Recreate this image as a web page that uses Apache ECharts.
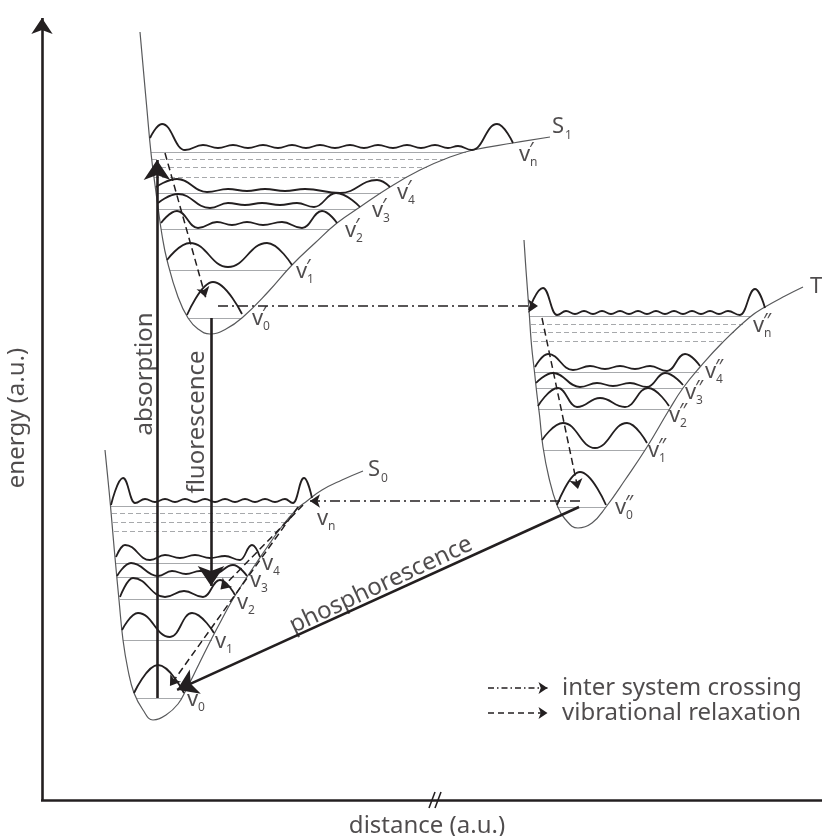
<!DOCTYPE html>
<html>
<head>
<meta charset="utf-8">
<script src="https://cdn.jsdelivr.net/npm/echarts@6.0.0/dist/echarts.min.js"></script>
<style>
  html, body { margin: 0; padding: 0; background: #fff; }
  #main { width: 822px; height: 836px; }
</style>
</head>
<body>
<div id="main"></div>
<script>
// x: distance (a.u.), y: energy (a.u.) measured downwards like the drawing
const curveS1 = [[140,32],[147,110],[151,153],[155,185],[158,207],[162,235],[167,260],[178,297],[188,318],[198,329],[210,334],
  [226,329],[243,317],[268,292],[292,265],[315,243],[337,223],[360,207],[390,187],[420,170],[450,157],[473,150],[513,143],[550,137]];
const curveS0 = [[105,450],[108,480],[110.5,506],[113,535],[115.5,563],[119,600],[123,640],[128,670],[134,693],[143,710],[153,720],
  [166,715],[178,704],[186,690],[199,664],[212,638],[222,619],[233,599],[247,577],[257,562],[270,543],[283,525],[297,509],[307,501],[322,490],[342,480],[363,471]];
const curveT = [[524,240],[526,270],[529,310],[531.5,345],[534.5,372],[537,395],[539.5,415],[543,447],[549,478],[557,505],[565,519],[578,528],
  [592,523],[606,507],[625,480],[647,447],[669,410],[683,388],[700,367],[722,343],[750,317],[765,307],[785,296],[803,287]];

// vibrational levels [left, right, energy]
const levelsS1 = [[151,466,152],[156,381,193],[158,357,209],[161,330,229],[170,287,270],[188,242,318]];
const levelsS0 = [[111,301,506],[116,257,563],[117,247,577],[120,233,599],[123,212,640],[136,182,698]];
const levelsT = [[530,750,316],[535,699,372],[536,683,388],[538,669,409],[543,645,450],[557,606,507]];
const hiddenS1 = [[152,445,159],[153,427,167],[154,407,177]];
const hiddenS0 = [[112,293,513],[113,286,522],[114,279,531]];
const hiddenT = [[531,743,324],[532,734,332],[533,724,341]];

// wavefunctions over the levels
const wavesS1 = [
  [[187,315],[213,282],[242,314]],
  [[167,260],[190,243],[228,267],[267,243],[292,265]],
  [[161,223],[177,211],[198,228],[217,222],[232,225],[247,222],[263,225],[282,222],[302,228],[322,211],[337,223]],
  [[158,203],[178,194],[210,208],[228,203],[245,205],[262,203],[280,205],[297,203],[314,207],[336,193],[360,207]],
  [[156,187],[177,179],[207,192],[228,189],[247,191],[265,189],[285,191],[305,189],[340,193],[377,180],[390,187]],
  [[150,138],[162,124],[185,150],[203,145],[218,148],[233,145],[248,148],[263,145],[278,148],[292,145],[306,148],[320,145],[335,148],
   [350,145],[364,148],[378,145],[393,148],[407,145],[421,148],[435,145],[448,148],[458,146],[472,150],[497,124],[513,143]]
];
const wavesS0 = [
  [[134,693],[158,665],[184,693]],
  [[122,630],[138,613],[170,637],[192,613],[214,633]],
  [[120,597],[133,578],[165,597],[184,591],[203,597],[220,580],[235,595]],
  [[117,576],[131,563],[158,576],[172,571],[186,574],[200,571],[214,574],[233,565],[247,576]],
  [[116,557],[125,545],[150,560],[165,555],[180,558],[195,555],[210,558],[225,556],[240,560],[252,545],[260,557]],
  [[111,505],[123,478],[135,503],[145,499],[155,502],[165,499],[175,502],[185,499],[195,502],[205,499],[215,502],[225,499],
   [235,502],[245,499],[255,502],[265,499],[275,502],[285,499],[293,503],[304,478],[312,498]]
];
const wavesT = [
  [[557,505],[580,472],[606,505]],
  [[542,440],[563,423],[595,448],[627,423],[647,443]],
  [[538,406],[558,388],[577,407],[600,398],[625,407],[648,388],[669,406]],
  [[536,383],[553,373],[580,387],[597,383],[613,386],[630,383],[647,387],[665,373],[683,385]],
  [[535,367],[548,354],[573,370],[590,366],[605,369],[620,366],[635,369],[650,366],[667,371],[685,354],[700,366]],
  [[529,310],[543,288],[557,315],[566,311],[575,314],[584,311],[593,314],[602,311],[611,314],[620,311],[629,314],[638,311],
   [647,314],[656,311],[665,314],[674,311],[683,314],[692,311],[701,314],[710,311],[719,314],[728,311],[740,315],[755,289],[765,308]]
];

// transitions [from, to]
const radiative = [[[157,698],[157,150]], [[211,318],[211,596]]];
const phosphorescence = [[[579,507],[168,694]]];
const relaxation = [[[165,153],[207,302]], [[542,318],[579,494]], [[298,507],[167,690]], [[303,505],[217,593]]];
const crossing = [[[218,306],[543,306]], [[580,501],[305,501]]];

// level tags [x, y, subscript]
const tagsS1 = [[252,319,'0'],[296,272,'1'],[345,231,'2'],[372,211,'3'],[397,193,'4'],[519,155,'n']];
const tagsS0 = [[187,700,'0'],[215,642,'1'],[237,603,'2'],[250,581,'3'],[262,564,'4'],[317,519,'n']];
const tagsT = [[615,508,'0'],[648,451,'1'],[669,416,'2'],[685,393,'3'],[705,372,'4'],[753,326,'n']];
const states = [[552,127,'S','1'],[368,470,'S','0'],[810,287,'T','']];

const legendItems = ['inter system crossing', 'vibrational relaxation'];

const FONT = 'Noto Sans';
const INK = '#231f20';
const chart = echarts.init(document.getElementById('main'));
const series = [];

function addLine(points, color, width, z, monotone) {
  series.push({
    type: 'line', data: points, smooth: 0.45, smoothMonotone: monotone ? 'x' : null, symbol: 'none', silent: true, z: z,
    lineStyle: { color: color, width: width }
  });
}

// pull the end back so that the arrow tip lands on the end point
function trim(seg, head) {
  if (!head) return seg;
  const a = seg[0], b = seg[1];
  const dx = b[0] - a[0], dy = b[1] - a[1];
  const k = (head / 2) / Math.hypot(dx, dy);
  return [a, [b[0] - dx * k, b[1] - dy * k]];
}

function addSegments(list, style, head, z) {
  series.push({
    type: 'lines', coordinateSystem: 'cartesian2d', silent: true, z: z || 4,
    symbol: ['none', head ? 'arrow' : 'none'], symbolSize: head || 1,
    lineStyle: Object.assign({ opacity: 1, curveness: 0, color: INK }, style),
    data: list.map(s => ({ coords: trim(s, head) }))
  });
}

function addTexts(items, label) {
  series.push({
    type: 'scatter', symbolSize: 0, silent: true, z: 10,
    data: items.map(t => ({ value: [t[0], t[1]], name: t[2] })),
    label: Object.assign({
      show: true, position: [0, 0], formatter: '{b}', color: INK, fontFamily: FONT,
      align: 'left', verticalAlign: 'middle', fontSize: 22
    }, label)
  });
}

const toSeg = l => [[l[0], l[2]], [l[1], l[2]]];

// levels
addSegments(levelsS1.concat(levelsS0, levelsT).map(toSeg), { color: '#a7a9ac', width: 1 }, 0, 1);
addSegments(hiddenS1.concat(hiddenS0, hiddenT).map(toSeg), { color: '#a7a9ac', width: 1, type: [5, 3] }, 0, 1);

// potentials
[curveS1, curveS0, curveT].forEach(c => addLine(c, '#58595b', 1.2, 2, false));

// wavefunctions
wavesS1.concat(wavesS0, wavesT).forEach(w => addLine(w, INK, 1.8, 3, true));

// transitions
addSegments(radiative, { width: 2.6 }, 20, 6);
addSegments(phosphorescence, { width: 2.6 }, 20, 6);
addSegments(relaxation, { width: 1.5, type: [7, 4] }, 10, 5);
addSegments(crossing, { width: 1.5, type: [10, 4, 2, 4] }, 10, 5);

// axes
addSegments([[[42, 801], [42, 10]]], { width: 2.6 }, 16, 6);
addSegments([[[41, 800], [822, 800]]], { width: 2.6 }, 0, 6);
addSegments([[[429, 808], [435, 792]], [[435, 808], [441, 792]]], { width: 1.6 }, 0, 7);

// legend
const legendY = [688, 713];
addSegments([[[488, legendY[0]], [552, legendY[0]]]], { width: 1.5, type: [6, 3, 1.5, 3] }, 9, 5);
addSegments([[[488, legendY[1]], [552, legendY[1]]]], { width: 1.5, type: [6, 4] }, 9, 5);
addTexts(legendItems.map((t, i) => [562, legendY[i], t]), { fontSize: 24 });

// level tags
const allTags = tagsS1.concat(tagsS0, tagsT);
addTexts(allTags.map(t => [t[0], t[1], 'v']), { fontSize: 22 });
addTexts(allTags.map(t => [t[0], t[1], t[2]]), { fontSize: 12, offset: [11, 8] });
addTexts(tagsS1.map(t => [t[0], t[1], '\u2032']), { fontSize: 20, offset: [10, -5] });
addTexts(tagsT.map(t => [t[0], t[1], '\u2033']), { fontSize: 20, offset: [10, -5] });

// state names
addTexts(states.map(s => [s[0], s[1], s[2]]), { fontSize: 22 });
addTexts(states.map(s => [s[0], s[1], s[3]]), { fontSize: 12, offset: [13, 9] });

// process names and axis titles
addTexts([[145, 374, 'absorption'], [197, 422, 'fluorescence'], [17, 418, 'energy (a.u.)']],
  { fontSize: 24, rotate: 90, align: 'center' });
addTexts([[381, 585, 'phosphorescence']], { fontSize: 24, rotate: 25, align: 'center' });
addTexts([[427, 826, 'distance (a.u.)']], { fontSize: 24, align: 'center' });

chart.setOption({
  animation: false,
  grid: { left: 0, right: 0, top: 0, bottom: 0 },
  xAxis: { type: 'value', min: 0, max: 822, show: false },
  yAxis: { type: 'value', min: 0, max: 836, inverse: true, show: false },
  series: series
});
</script>
</body>
</html>
